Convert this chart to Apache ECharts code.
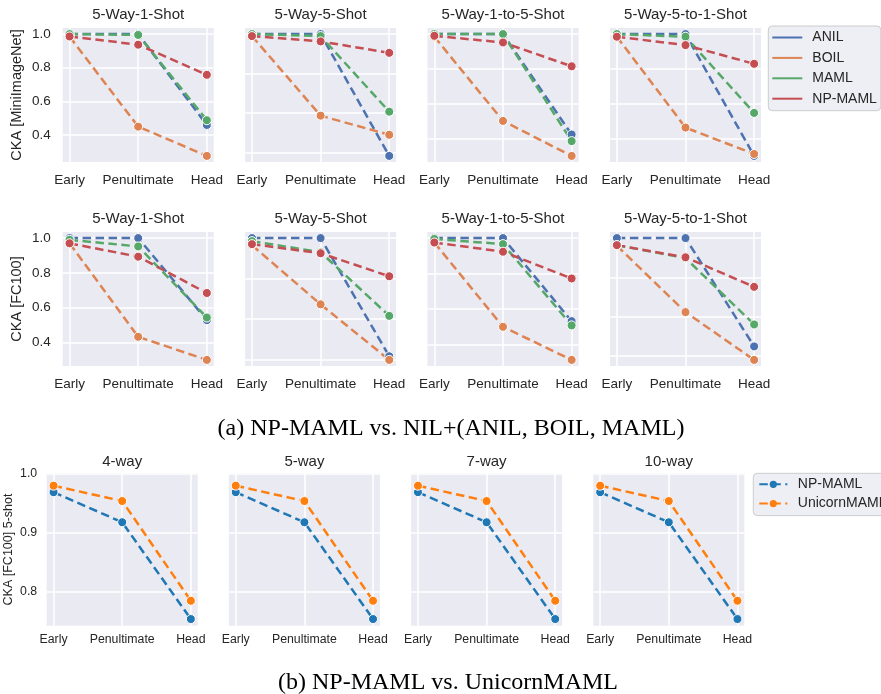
<!DOCTYPE html>
<html>
<head>
<meta charset="utf-8">
<script src="https://cdn.jsdelivr.net/npm/echarts@6/dist/echarts.min.js"></script>
<style>
html, body { margin: 0; padding: 0; background: #fff; }
#main { width: 881px; height: 694px; }
</style>
</head>
<body>
<div id="main"></div>
<script>
// categories on the x axis
const layers = ['Early', 'Penultimate', 'Head'];
const methods = ['ANIL', 'BOIL', 'MAML', 'NP-MAML'];
const settingTitles = ['5-Way-1-Shot', '5-Way-5-Shot', '5-Way-1-to-5-Shot', '5-Way-5-to-1-Shot'];
const wayTitles = ['4-way', '5-way', '7-way', '10-way'];
const ticksAB = [0.4, 0.6, 0.8, 1.0];
const ticksC = [0.8, 0.9, 1.0];

// (a) MiniImageNet, one row per panel: [Early, Penultimate, Head]
const miniANIL = [[1.00, 1.00, 0.460], [1.00, 1.00, 0.383], [1.00, 1.00, 0.423], [1.00, 1.00, 0.303]];
const miniBOIL = [[0.985, 0.450, 0.276], [0.990, 0.587, 0.490], [0.985, 0.501, 0.300], [0.985, 0.465, 0.314]];
const miniMAML = [[1.00, 0.995, 0.488], [1.00, 0.990, 0.607], [1.00, 1.00, 0.385], [1.00, 0.985, 0.549]];
const miniNP = [[0.986, 0.937, 0.758], [0.990, 0.963, 0.905], [0.990, 0.952, 0.815], [0.985, 0.937, 0.830]];

// (a) FC100
const fcANIL = [[1.00, 1.00, 0.528], [1.00, 1.00, 0.415], [1.00, 1.00, 0.531], [1.00, 1.00, 0.447]];
const fcBOIL = [[0.970, 0.432, 0.299], [0.965, 0.672, 0.397], [0.975, 0.499, 0.312], [0.961, 0.622, 0.378]];
const fcMAML = [[0.990, 0.952, 0.543], [0.985, 0.930, 0.615], [0.995, 0.966, 0.507], [0.964, 0.898, 0.559]];
const fcNP = [[0.970, 0.893, 0.684], [0.970, 0.925, 0.811], [0.975, 0.923, 0.772], [0.964, 0.902, 0.751]];

// (b) FC100 5-shot, same values in all four way settings
const wayNP = [[0.968, 0.917, 0.753], [0.968, 0.917, 0.753], [0.968, 0.917, 0.753], [0.968, 0.917, 0.753]];
const wayUnicorn = [[0.979, 0.953, 0.784], [0.979, 0.953, 0.784], [0.979, 0.953, 0.784], [0.979, 0.953, 0.784]];

const FONT = 'Liberation Sans, Arial, sans-serif';
const INK = '#262626';
const deep = ['#4C72B0', '#DD8452', '#55A868', '#C44E52'];
const tab = ['#1f77b4', '#ff7f0e'];

const chart = echarts.init(document.getElementById('main'), null, { renderer: 'canvas' });

const grids = [], xAxes = [], yAxes = [], series = [], texts = [];

//matplotlib style autoscale: 5% margins around the data
function extentOf(lists, fixedMax) {
    const all = [].concat(...lists);
    const lo = Math.min(...all), hi = Math.max(...all), r = hi - lo;
    return [lo - 0.05 * r, fixedMax !== undefined ? fixedMax : hi + 0.05 * r];
}

function addPanel(p) {
    const idx = grids.length;
    grids.push({
        left: p.left, top: p.top, width: p.width, height: p.height,
        show: true, backgroundColor: '#EAEAF2', borderWidth: 0
    });
    xAxes.push({
        type: 'value', gridIndex: idx, min: -0.1, max: 2.1,
        axisLine: { show: false },
        axisTick: { show: false, customValues: [0, 1, 2] },
        axisLabel: {
            customValues: [0, 1, 2], margin: p.xMargin, color: INK,
            fontFamily: FONT, fontSize: p.fontSize,
            formatter: v => layers[Math.round(v)]
        },
        splitLine: { show: true, lineStyle: { color: '#fff', width: 1.5 } }
    });
    const ext = extentOf(p.lists, p.fixedMax);
    const ticks = p.ticks.filter(v => v >= ext[0] - 1e-9 && v <= ext[1] + 1e-9);
    yAxes.push({
        type: 'value', gridIndex: idx, min: ext[0], max: ext[1],
        name: p.yName || '', nameLocation: 'middle', nameGap: p.nameGap,
        nameTextStyle: { color: INK, fontFamily: FONT, fontSize: p.nameSize },
        axisLine: { show: false },
        axisTick: { show: false, customValues: ticks },
        axisLabel: {
            show: !!p.yName, customValues: ticks, margin: p.yMargin, color: INK,
            fontFamily: FONT, fontSize: p.fontSize,
            formatter: v => v.toFixed(1)
        },
        splitLine: { show: true, lineStyle: { color: '#fff', width: 1.5 } }
    });
    p.lists.forEach((vals, k) => {
        series.push({
            type: 'line', name: p.names[k], xAxisIndex: idx, yAxisIndex: idx,
            data: vals.map((v, i) => [i, v]),
            symbol: 'circle', symbolSize: 9,
            lineStyle: { color: p.colors[k], width: 2.5, type: [8.5, 4.5] },
            itemStyle: { color: p.colors[k], borderColor: '#fff', borderWidth: 1 },
            emphasis: { disabled: true },
            animation: false
        });
    });
    texts.push({
        type: 'text', x: p.left + p.width / 2, y: p.titleY,
        style: {
            text: p.title, fill: INK, font: '15px ' + FONT,
            textAlign: 'center', textVerticalAlign: 'middle'
        }
    });
}

const colsAB = [62.7, 245.1, 427.5, 610];
const colsC = [46.7, 228.9, 411.1, 593.3];

for (let c = 0; c < 4; c++) {
    addPanel({
        left: colsAB[c], top: 28, width: 151, height: 134, titleY: 14.5,
        lists: [miniANIL[c], miniBOIL[c], miniMAML[c], miniNP[c]],
        names: methods, colors: deep, ticks: ticksAB,
        title: settingTitles[c], yName: c === 0 ? 'CKA [MiniImageNet]' : '',
        fontSize: 13.5, nameSize: 14.5, nameGap: 38, xMargin: 11, yMargin: 12
    });
}
for (let c = 0; c < 4; c++) {
    addPanel({
        left: colsAB[c], top: 232, width: 151, height: 134, titleY: 218.5,
        lists: [fcANIL[c], fcBOIL[c], fcMAML[c], fcNP[c]],
        names: methods, colors: deep, ticks: ticksAB,
        title: settingTitles[c], yName: c === 0 ? 'CKA [FC100]' : '',
        fontSize: 13.5, nameSize: 14.5, nameGap: 38, xMargin: 11, yMargin: 12
    });
}
for (let c = 0; c < 4; c++) {
    addPanel({
        left: colsC[c], top: 473.3, width: 151, height: 152.4, titleY: 462,
        lists: [wayNP[c], wayUnicorn[c]], fixedMax: 1.0,
        names: ['NP-MAML ', 'UnicornMAML'], colors: tab, ticks: ticksC,
        title: wayTitles[c], yName: c === 0 ? 'CKA [FC100] 5-shot' : '',
        fontSize: 12.3, nameSize: 12.5, nameGap: 32, xMargin: 8, yMargin: 9.5
    });
}

//图注
texts.push({
    type: 'text', x: 451, y: 429,
    style: {
        text: '(a) NP-MAML vs. NIL+(ANIL, BOIL, MAML)', fill: '#000',
        font: '24px Liberation Serif, Times New Roman, serif',
        textAlign: 'center', textVerticalAlign: 'middle'
    }
});
texts.push({
    type: 'text', x: 448, y: 683,
    style: {
        text: '(b) NP-MAML vs. UnicornMAML', fill: '#000',
        font: '24px Liberation Serif, Times New Roman, serif',
        textAlign: 'center', textVerticalAlign: 'middle'
    }
});

const option = {
    backgroundColor: '#fff',
    animation: false,
    grid: grids,
    xAxis: xAxes,
    yAxis: yAxes,
    series: series,
    graphic: texts,
    legend: [{
        data: methods, orient: 'vertical', left: 768.3, top: 26,
        icon: 'rect', itemWidth: 30, itemHeight: 2, itemGap: 6.4,
        padding: [4.5, 4, 5, 4],
        backgroundColor: 'rgba(234,234,242,0.8)', borderColor: '#cccccc',
        borderWidth: 1, borderRadius: 4,
        itemStyle: { borderWidth: 0 },
        textStyle: { color: INK, fontFamily: FONT, fontSize: 14, padding: [0, 0, 0, 5] },
        selectedMode: false
    }, {
        data: ['NP-MAML ', 'UnicornMAML'], orient: 'vertical', left: 753.3, top: 473.3,
        itemWidth: 28, itemHeight: 9, itemGap: 5.3,
        padding: [4, 8, 5, 5],
        backgroundColor: 'rgba(234,234,242,0.8)', borderColor: '#cccccc',
        borderWidth: 1, borderRadius: 4,
        itemStyle: { borderWidth: 0 },
        textStyle: { color: INK, fontFamily: FONT, fontSize: 14, padding: [0, 0, 0, 5.5] },
        selectedMode: false
    }]
};

chart.setOption(option);
</script>
</body>
</html>
